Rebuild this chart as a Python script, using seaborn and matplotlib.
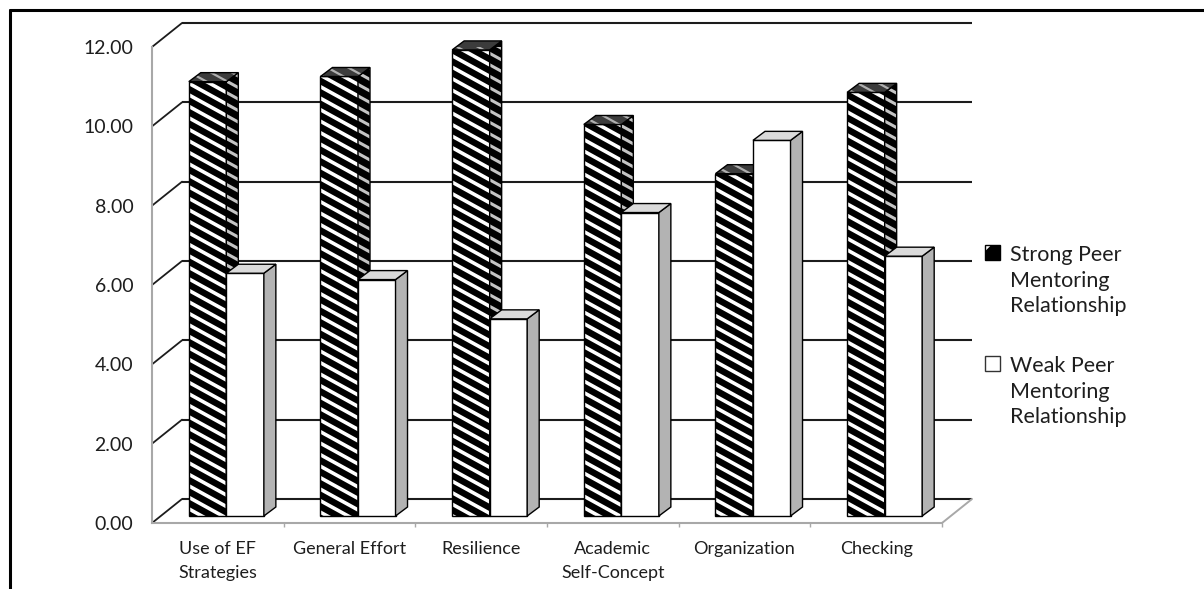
import matplotlib
matplotlib.use("Agg")
import numpy as np
import pandas as pd
import matplotlib.pyplot as plt
import matplotlib.transforms as mtransforms
from matplotlib.patches import Polygon, Patch
from matplotlib.collections import LineCollection
from matplotlib.lines import Line2D
from matplotlib.ticker import StrMethodFormatter, FixedLocator
import seaborn as sns

# ---- data -------------------------------------------------------------
measures = ["Use of EF\nStrategies", "General Effort", "Resilience",
            "Academic\nSelf-Concept", "Organization", "Checking"]
strong_scores = [10.95, 11.08, 11.75, 9.87, 8.63, 10.68]
weak_scores = [6.12, 5.96, 4.97, 7.65, 9.47, 6.55]
groups = ["Strong Peer\nMentoring\nRelationship",
          "Weak Peer\nMentoring\nRelationship"]
y_ticks = [0, 2, 4, 6, 8, 10, 12]

# ---- canvas -----------------------------------------------------------
W, H, DPI = 1204, 589, 100
sns.set_style("white")
plt.rcParams["font.family"] = ["Lato", "DejaVu Sans"]
plt.rcParams["hatch.linewidth"] = 3.0
TEXT = "#1e1e1e"
GREY_AXIS = "#a8a8a8"

df = pd.DataFrame({
    "measure": measures * 2,
    "score": strong_scores + weak_scores,
    "group": [groups[0]] * len(measures) + [groups[1]] * len(measures),
})

fig = plt.figure(figsize=(W / DPI, H / DPI), dpi=DPI)
fig.patch.set_facecolor("white")

# front plane of the 3-D box, in pixels from the top-left corner
L, R, T, B = 152, 942, 47, 523
ax = fig.add_axes([L / W, 1 - B / H, (R - L) / W, (B - T) / H])
ax.set_facecolor("none")

sns.barplot(data=df, x="measure", y="score", hue="group",
            order=measures, hue_order=groups,
            palette=["black", "white"], saturation=1, width=0.57,
            edgecolor="black", linewidth=1.0, ax=ax, legend=False)
ax.set_xlim(-0.5, 5.5)
ax.set_ylim(0, 12)
ax.set_xlabel("")
ax.set_ylabel("")

# pixel size of one data unit
sx = (R - L) / 6.0
sy = (B - T) / 12.0

# depth offsets (pixels): back wall, bar plane, bar thickness
BACK = (30.0, 24.0)
BAR = (8.5, 7.0)
DEPTH = np.array([12.0, 9.0])
bx, by = BACK[0] / sx, BACK[1] / sy

# back wall gridlines and left wall diagonals
for v in y_ticks:
    ax.plot([-0.5 + bx, 5.5 + bx], [v + by, v + by], color="#1c1c1c",
            lw=1.5, clip_on=False, zorder=0.5, solid_capstyle="butt")
    ax.plot([-0.5, -0.5 + bx], [v, v + by], color="#1c1c1c",
            lw=1.3, clip_on=False, zorder=0.5)
# right edge of the floor
ax.plot([5.5, 5.5 + bx], [0, by], color=GREY_AXIS, lw=1.4,
        clip_on=False, zorder=0.6)

ident = mtransforms.IdentityTransform()
bar_shift = mtransforms.ScaledTranslation(BAR[0] / DPI, BAR[1] / DPI,
                                          fig.dpi_scale_trans)
bar_trans = ax.transData + bar_shift

STRIPE_SLOPE = 0.55
STRIPE_PERIOD = 11.5


def stripes(face, color, lw, z):
    """Diagonal stripe pattern clipped to a face polygon (display pixels)."""
    verts = face.get_xy()
    xs, ys = verts[:, 0], verts[:, 1]
    x0, x1 = xs.min() - 3, xs.max() + 3
    c_lo = ys.min() + STRIPE_SLOPE * x0
    c_hi = ys.max() + STRIPE_SLOPE * x1
    n0 = int(np.floor(c_lo / STRIPE_PERIOD)) - 1
    n1 = int(np.ceil(c_hi / STRIPE_PERIOD)) + 1
    segs = []
    for n in range(n0, n1 + 1):
        c = n * STRIPE_PERIOD
        segs.append([(x0, c - STRIPE_SLOPE * x0), (x1, c - STRIPE_SLOPE * x1)])
    lc = LineCollection(segs, colors=color, linewidths=lw,
                        transform=ident, zorder=z)
    ax.add_collection(lc, autolim=False)
    lc.set_clip_path(face)


def face(verts, fc, z, stripe=None, stripe_lw=2.6):
    poly = Polygon(verts, closed=True, facecolor=fc, edgecolor="none",
                   transform=ident, zorder=z, clip_on=False)
    ax.add_patch(poly)
    if stripe is not None:
        stripes(poly, stripe, stripe_lw, z + 0.001)
    outline = Polygon(verts, closed=True, facecolor="none",
                      edgecolor="black", lw=1.0, transform=ident,
                      zorder=z + 0.002, clip_on=False, joinstyle="miter")
    ax.add_patch(outline)


styles = [
    dict(front_stripe="white", side="black", side_stripe="#c4c4c4",
         top="#3c3c3c", top_stripe="#b0b0b0", z=3),
    dict(front_stripe=None, side="#b3b3b3", side_stripe=None,
         top="#dadada", top_stripe=None, z=4),
]

for container, st in zip(ax.containers, styles):
    z = st["z"]
    for p in container.patches:
        p.set_transform(bar_trans)
        p.set_clip_on(False)
        p.set_zorder(z)
        x0, w, h = p.get_x(), p.get_width(), p.get_height()
        bl, br, tr, tl = bar_trans.transform(
            [(x0, 0), (x0 + w, 0), (x0 + w, h), (x0, h)])
        # front face
        if st["front_stripe"] is not None:
            p.set_edgecolor("none")
            face(np.array([bl, br, tr, tl]), "black", z,
                 stripe=st["front_stripe"], stripe_lw=2.6)
        # side face
        face(np.array([br, tr, tr + DEPTH, br + DEPTH]), st["side"],
             z + 0.01, stripe=st["side_stripe"], stripe_lw=2.2)
        # top face
        face(np.array([tl, tr, tr + DEPTH, tl + DEPTH]), st["top"],
             z + 0.02, stripe=st["top_stripe"], stripe_lw=1.6)

ax.set_xlim(-0.5, 5.5)
ax.set_ylim(0, 12)

# ---- axes styling --------------------------------------------------------
for side in ("top", "right"):
    ax.spines[side].set_visible(False)
for side in ("left", "bottom"):
    ax.spines[side].set_color(GREY_AXIS)
    ax.spines[side].set_linewidth(1.5)
    ax.spines[side].set_zorder(0.7)

ax.yaxis.set_major_locator(FixedLocator(y_ticks))
ax.yaxis.set_major_formatter(StrMethodFormatter("{x:.2f}"))
ax.tick_params(axis="y", which="major", length=6.5, width=1.2,
               color=GREY_AXIS, pad=7, labelsize=14, labelcolor=TEXT)
ax.tick_params(axis="x", which="major", length=0, pad=13,
               labelsize=13, labelcolor=TEXT)
for lbl in ax.get_xticklabels():
    lbl.set_linespacing(1.6)
ax.xaxis.set_minor_locator(FixedLocator([0.5, 1.5, 2.5, 3.5, 4.5, 5.5]))
ax.tick_params(axis="x", which="minor", length=3, width=1.0,
               color=GREY_AXIS, bottom=True)
ax.grid(False)

# ---- legend --------------------------------------------------------------
h_strong = Patch(facecolor="black", edgecolor="black", hatch="/", lw=1.0)
h_strong._hatch_color = (1.0, 1.0, 1.0, 1.0)
h_weak = Patch(facecolor="white", edgecolor="#333333", lw=1.0)
leg = fig.legend([h_strong, h_weak], groups, loc="upper left",
                 bbox_to_anchor=(985 / W, 1 - 245 / H), frameon=False,
                 fontsize=15.5, handlelength=0.7, handleheight=0.7,
                 handletextpad=0.45, labelspacing=1.85, borderpad=0,
                 borderaxespad=0, labelcolor=TEXT)
for t in leg.get_texts():
    t.set_linespacing(1.35)
for column in leg._legend_handle_box.get_children():
    for item in column.get_children():
        item.align = "top"

# ---- outer frame -------------------------------------------------------
fig.add_artist(Line2D([10 / W, 10 / W], [0, 1 - 10 / H], color="black",
                      lw=2.2, transform=fig.transFigure))
fig.add_artist(Line2D([10 / W, 1], [1 - 10 / H, 1 - 10 / H], color="black",
                      lw=2.2, transform=fig.transFigure))

fig.savefig("out.png", dpi=DPI, facecolor="white")
